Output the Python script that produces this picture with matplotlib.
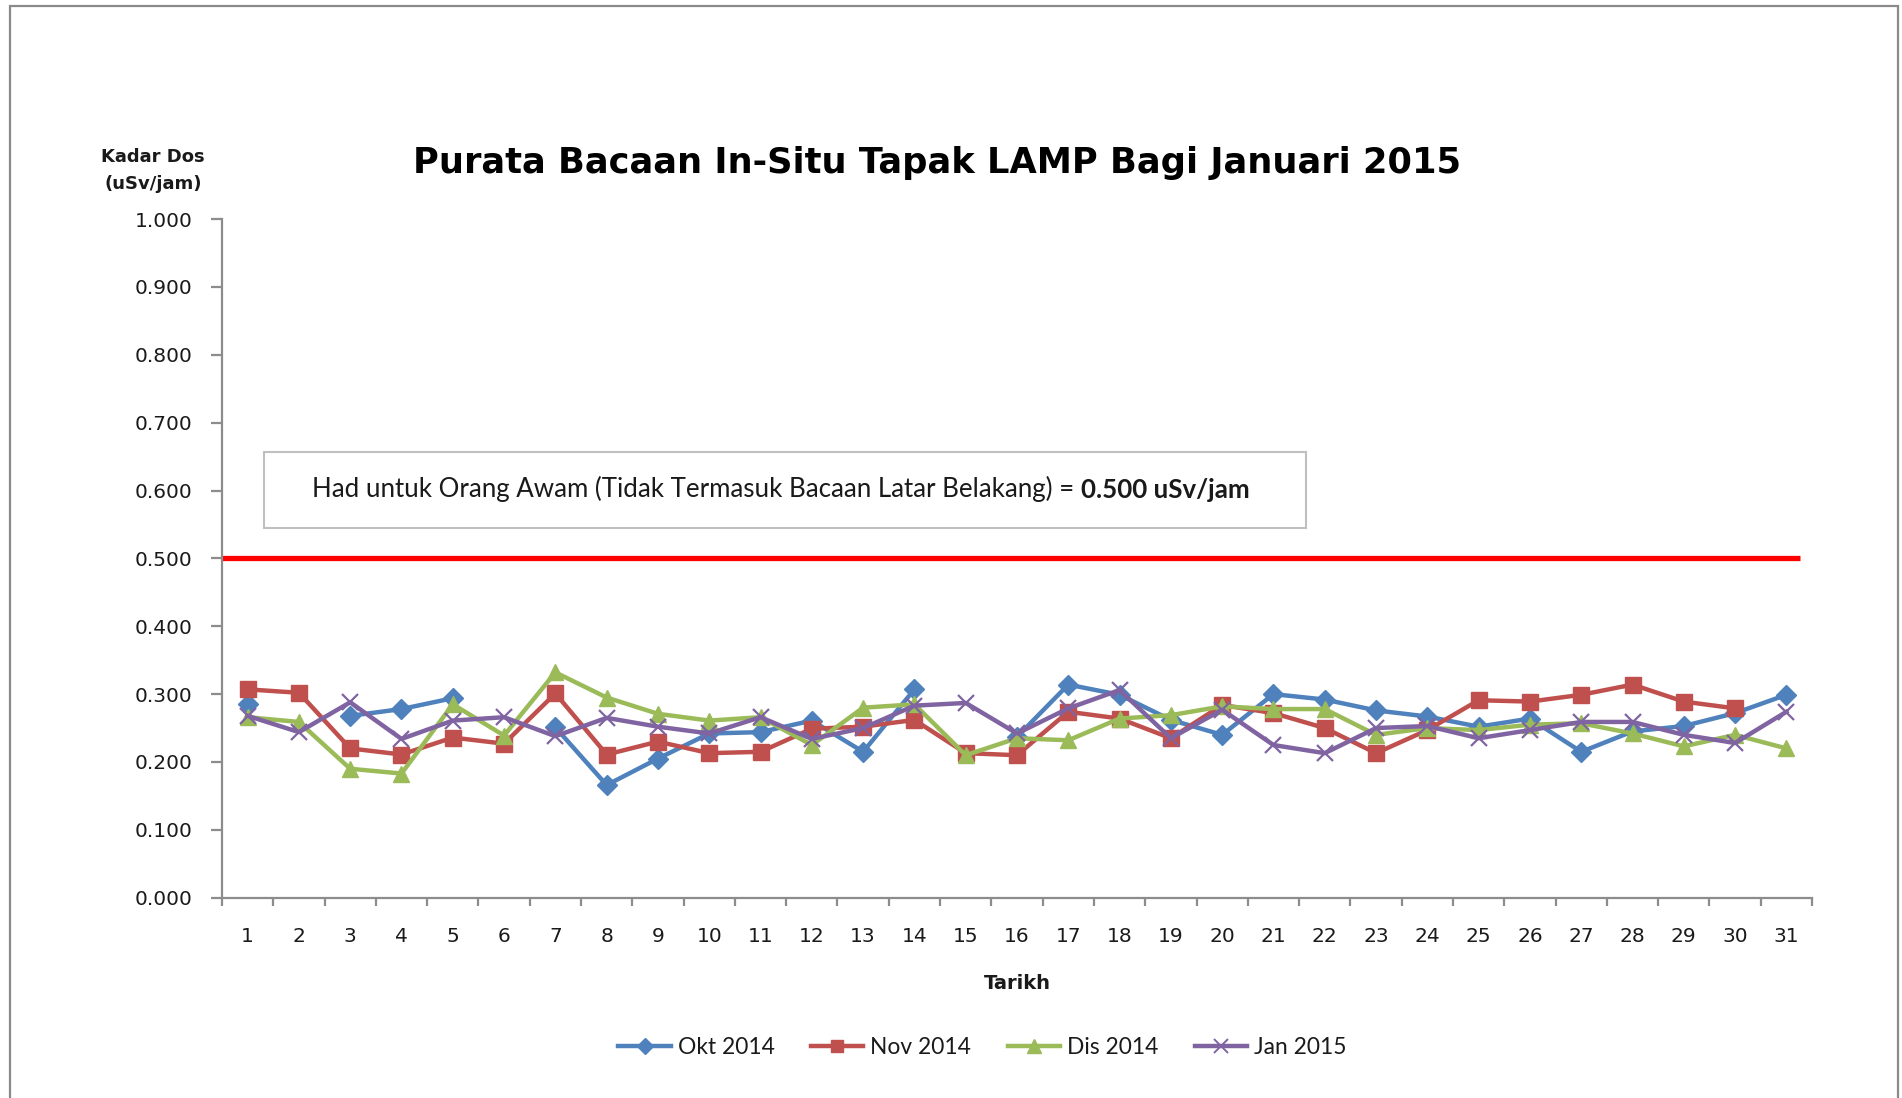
import numpy as np
import matplotlib
matplotlib.use("Agg")
import matplotlib.pyplot as plt
from matplotlib.patches import Rectangle
from matplotlib.lines import Line2D

# --- data ---
days = list(range(1, 32))
nan = np.nan
okt_2014 = [0.285, nan, 0.268, 0.278, 0.294, nan, 0.251, 0.166, 0.205, 0.242,
            0.244, 0.261, 0.215, 0.307, nan, 0.237, 0.314, 0.299, 0.262, 0.240,
            0.300, 0.292, 0.276, 0.267, 0.252, 0.264, 0.215, 0.245, 0.253, 0.272, 0.299]
nov_2014 = [0.307, 0.302, 0.220, 0.211, 0.236, 0.227, 0.301, 0.211, 0.230, 0.213,
            0.215, 0.249, 0.252, 0.262, 0.213, 0.210, 0.274, 0.264, 0.235, 0.284,
            0.272, 0.250, 0.213, 0.247, 0.291, 0.289, 0.299, 0.314, 0.289, 0.279, nan]
dis_2014 = [0.266, 0.259, 0.190, 0.183, 0.285, 0.239, 0.332, 0.295, 0.271, 0.261,
            0.266, 0.225, 0.280, 0.285, 0.210, 0.235, 0.232, 0.264, 0.269, 0.282,
            0.278, 0.278, 0.240, 0.250, 0.247, 0.255, 0.257, 0.242, 0.223, 0.240, 0.220]
jan_2015 = [0.268, 0.244, 0.288, 0.234, 0.261, 0.266, 0.238, 0.265, 0.252, 0.242,
            0.266, 0.234, 0.250, 0.283, 0.287, 0.242, 0.279, 0.306, 0.235, 0.277,
            0.225, 0.213, 0.250, 0.253, 0.235, 0.247, 0.259, 0.259, 0.240, 0.228, 0.274]
series_names = ["Okt 2014", "Nov 2014", "Dis 2014", "Jan 2015"]
LIMIT = 0.500
y_ticks = [0.0, 0.1, 0.2, 0.3, 0.4, 0.5, 0.6, 0.7, 0.8, 0.9, 1.0]

# --- style ---
COLORS  = ["#4F81BD", "#C0504D", "#9BBB59", "#8064A2"]
MARKERS = ["D", "s", "^", "x"]
MSIZES  = [10, 11, 12, 12]
TXT = "#1a1a1a"
AX_GREY = "#8c8c8c"
NARROW = "Lato"

fig = plt.figure(figsize=(19.02, 10.98), dpi=100)
ax = fig.add_axes([0.1167, 0.1824, 0.836, 0.6181])

for vals, name, c, m, ms in zip([okt_2014, nov_2014, dis_2014, jan_2015],
                                 series_names, COLORS, MARKERS, MSIZES):
    ax.plot(days, vals, color=c, lw=3.2, marker=m, markersize=ms,
            markerfacecolor=c, markeredgecolor=c,
            markeredgewidth=1.6 if m == "x" else 1.0, label=name, clip_on=False)

ax.hlines(LIMIT, 0.5, 31.26, color="#FF0000", lw=3.8, zorder=1)

ax.set_xlim(0.5, 31.5)
ax.set_ylim(0, 1.0)
ax.set_xticks(days)
ax.set_xticks(np.arange(0.5, 32, 1), minor=True)
ax.set_yticks(y_ticks)
ax.set_yticklabels([f"{v:.3f}" for v in y_ticks])

for s in ["top", "right"]:
    ax.spines[s].set_visible(False)
for s in ["left", "bottom"]:
    ax.spines[s].set_color(AX_GREY)
    ax.spines[s].set_linewidth(1.6)

ax.tick_params(axis="x", which="major", length=0, pad=21, labelsize=14.5, labelcolor=TXT)
ax.tick_params(axis="x", which="minor", length=6, width=1.6, color=AX_GREY, direction="out")
ax.tick_params(axis="y", length=8, width=1.6, color=AX_GREY, pad=13,
               labelsize=14.5, labelcolor=TXT)

ax.set_xlabel("Tarikh", fontsize=14, fontweight="bold", color=TXT, labelpad=20)

# y axis caption above the axis
fig.text(0.0805, 0.845, "Kadar Dos\n(uSv/jam)", ha="center", va="center",
         fontsize=13, fontweight="bold", color=TXT, linespacing=1.65)

# title
fig.text(0.4925, 0.852, "Purata Bacaan In-Situ Tapak LAMP Bagi Januari 2015",
         ha="center", va="center", fontsize=25.4, fontweight="bold", color="black")

# limit note box
ax.add_patch(Rectangle((0.0264, 0.545), 0.6553, 0.112, transform=ax.transAxes,
                       facecolor="white", edgecolor="#bfbfbf", lw=1.5, zorder=3))
t1 = ax.text(0.0566, 0.602, "Had untuk Orang Awam (Tidak Termasuk Bacaan Latar Belakang) = ",
             transform=ax.transAxes, ha="left", va="center", fontsize=18.6,
             family=NARROW, color=TXT, zorder=4)
ax.annotate("0.500 uSv/jam", xy=(1, 0), xycoords=t1, ha="left", va="bottom",
            fontsize=18.6, family=NARROW, fontweight="bold", color=TXT, zorder=4)

# legend
handles = [Line2D([], [], color=c, lw=3.2, marker=m, markersize=ms * 0.85,
                  markerfacecolor=c, markeredgecolor=c,
                  markeredgewidth=1.4 if m == "x" else 1.0)
           for c, m, ms in zip(COLORS, MARKERS, MSIZES)]
leg = fig.legend(handles, series_names, loc="center", bbox_to_anchor=(0.5165, 0.0464),
                 ncol=4, frameon=False, handlelength=2.3, handletextpad=0.3,
                 columnspacing=1.6, prop={"family": NARROW, "size": 16.4})
for t in leg.get_texts():
    t.set_color(TXT)

# outer chart frame (bottom edge falls outside the picture)
fig.patches.append(Rectangle((10 / 1902, -0.05), (1898 - 10) / 1902, 1.05 - 6 / 1098,
                             transform=fig.transFigure, fill=False,
                             edgecolor="#8a8a8a", lw=1.6))

fig.savefig("out.png", dpi=100, facecolor="white")
